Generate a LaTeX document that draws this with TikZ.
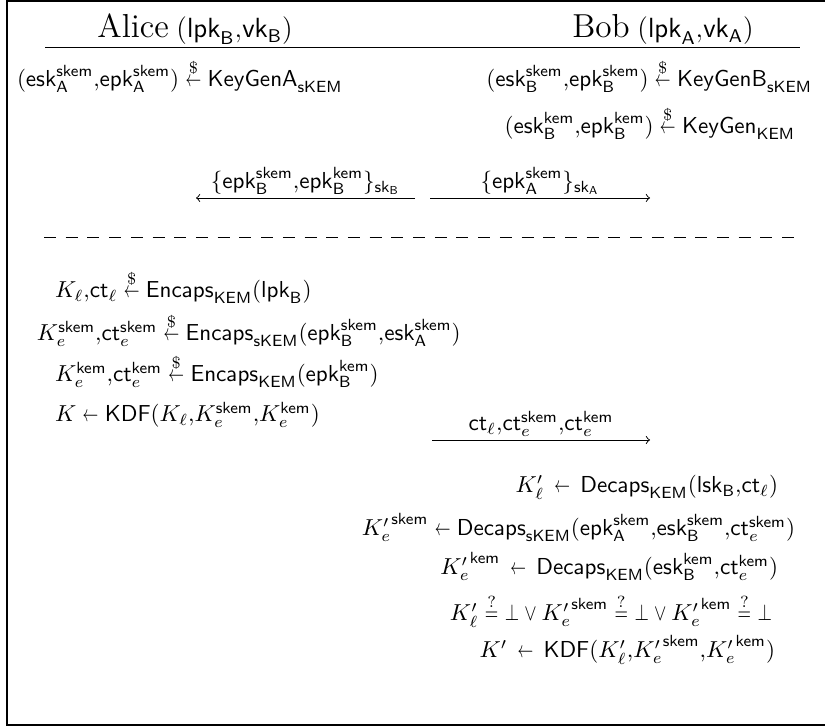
\documentclass[tikz,border=0pt]{standalone}
\usepackage{amsmath}
\usepackage{graphicx}
% shorthand for the protocol notation
\newcommand{\sfm}[1]{\mathsf{#1}}
\newcommand{\sgets}{\mathrel{\scalebox{0.68}[1]{$\leftarrow$}}}
\newcommand{\rnd}{\mathrel{\stackrel{\$}{\scalebox{0.68}[1]{$\leftarrow$}}}}
\newcommand{\chk}{\mathrel{\stackrel{?}{\scalebox{0.75}[1]{$=$}}}}
\newcommand{\nbot}{\mathord{\scalebox{0.8}[1]{$\bot$}}}
\newcommand{\nvee}{\mathbin{\scalebox{0.8}[1]{$\vee$}}}
\newcommand{\cma}{{,}}
\begin{document}
\begin{tikzpicture}[x=0.433pt,y=-0.433pt,
  txt/.style={inner sep=0pt,outer sep=0pt},
  rowl/.style={txt,anchor=base west},
  rowr/.style={txt,anchor=base east},
  title/.style={txt,anchor=base},
  rule/.style={line width=0.4pt},
  msg/.style={->,line width=0.4pt},
  lbl/.style={txt,above=1.5pt},
  frame/.style={line width=0.8pt},
  sep/.style={line width=0.4pt,dash pattern=on 5.2pt off 4.2pt}]
\useasboundingbox (0,0) rectangle (825,727);

% surrounding frame (open on the right)
\draw[frame] (825,1) -- (7,1) -- (7,725) -- (825,725);

% parties
\node[title] (alice) at (195,38) {{\Large Alice} {\large$(\sfm{lpk}_{\sfm{B}}\cma\sfm{vk}_{\sfm{B}})$}};
\node[title] (bob) at (663,38) {{\Large Bob} {\large$(\sfm{lpk}_{\sfm{A}}\cma\sfm{vk}_{\sfm{A}})$}};
\coordinate (hl) at (45,47);
\coordinate (hr) at (800,47);
\draw[rule] (hl) -- (hr);

% ephemeral key generation
\node[rowl] (ka) at (17,87) {$(\sfm{esk}^{\sfm{skem}}_{\sfm{A}}\cma\sfm{epk}^{\sfm{skem}}_{\sfm{A}}) \rnd \sfm{KeyGenA}_{\sfm{sKEM}}$};
\node[rowr] (kb1) at (812,87) {$(\sfm{esk}^{\sfm{skem}}_{\sfm{B}}\cma\sfm{epk}^{\sfm{skem}}_{\sfm{B}}) \rnd \sfm{KeyGenB}_{\sfm{sKEM}}$};
\node[rowr] (kb2) at (795,134) {$(\sfm{esk}^{\sfm{kem}}_{\sfm{B}}\cma\sfm{epk}^{\sfm{kem}}_{\sfm{B}}) \rnd \sfm{KeyGen}_{\sfm{KEM}}$};

% signed ephemeral keys
\coordinate (m1s) at (415,198);
\coordinate (m1e) at (196,198);
\coordinate (m2s) at (430,198);
\coordinate (m2e) at (650,198);
\draw[msg] (m1s) -- node[lbl] (l1) {$\{\sfm{epk}^{\sfm{skem}}_{\sfm{B}}\cma\sfm{epk}^{\sfm{kem}}_{\sfm{B}}\}_{\sfm{sk}_{\sfm{B}}}$} (m1e);
\draw[msg] (m2s) -- node[lbl] (l2) {$\{\sfm{epk}^{\sfm{skem}}_{\sfm{A}}\}_{\sfm{sk}_{\sfm{A}}}$} (m2e);

% phase separator
\coordinate (dl) at (44,237);
\coordinate (dr) at (800,237);
\draw[sep] (dl) -- (dr);

% Alice encapsulates
\node[rowl] (a1) at (55,298) {$K_\ell\cma\sfm{ct}_\ell \rnd \sfm{Encaps}_{\sfm{KEM}}(\sfm{lpk}_{\sfm{B}})$};
\node[rowl] (a2) at (37,341) {$K_e^{\sfm{skem}}\cma\sfm{ct}_e^{\sfm{skem}} \rnd \sfm{Encaps}_{\sfm{sKEM}}(\sfm{epk}^{\sfm{skem}}_{\sfm{B}}\cma\sfm{esk}^{\sfm{skem}}_{\sfm{A}})$};
\node[rowl] (a3) at (55,382) {$K_e^{\sfm{kem}}\cma\sfm{ct}_e^{\sfm{kem}} \rnd \sfm{Encaps}_{\sfm{KEM}}(\sfm{epk}^{\sfm{kem}}_{\sfm{B}})$};
\node[rowl] (a4) at (55,422) {$K \sgets \sfm{KDF}(K_\ell\cma K_e^{\sfm{skem}}\cma K_e^{\sfm{kem}})$};

% ciphertexts to Bob
\coordinate (m3s) at (432,440);
\coordinate (m3e) at (650,440);
\draw[msg] (m3s) -- node[lbl] (l3) {$\sfm{ct}_\ell\cma\sfm{ct}_e^{\sfm{skem}}\cma\sfm{ct}_e^{\sfm{kem}}$} (m3e);

% Bob decapsulates
\node[rowr] (b1) at (778,493) {$K'_\ell \,\sgets\, \sfm{Decaps}_{\sfm{KEM}}(\sfm{lsk}_{\sfm{B}}\cma\sfm{ct}_\ell)$};
\node[rowr] (b2) at (795,536) {${K'_e}^{\sfm{skem}} \sgets \sfm{Decaps}_{\sfm{sKEM}}(\sfm{epk}^{\sfm{skem}}_{\sfm{A}}\cma\sfm{esk}^{\sfm{skem}}_{\sfm{B}}\cma\sfm{ct}_e^{\sfm{skem}})$};
\node[rowr] (b3) at (778,575) {${K'_e}^{\sfm{kem}} \,\sgets\, \sfm{Decaps}_{\sfm{KEM}}(\sfm{esk}^{\sfm{kem}}_{\sfm{B}}\cma\sfm{ct}_e^{\sfm{kem}})$};
\node[rowr] (b4) at (772,621) {$K'_\ell \chk \nbot \nvee {K'_e}^{\sfm{skem}} \chk \nbot \nvee {K'_e}^{\sfm{kem}} \chk \nbot$};
\node[rowr] (b5) at (775,658) {$K' \,\sgets\, \sfm{KDF}(K'_\ell\cma{K'_e}^{\sfm{skem}}\cma{K'_e}^{\sfm{kem}})$};
\end{tikzpicture}
\end{document}
